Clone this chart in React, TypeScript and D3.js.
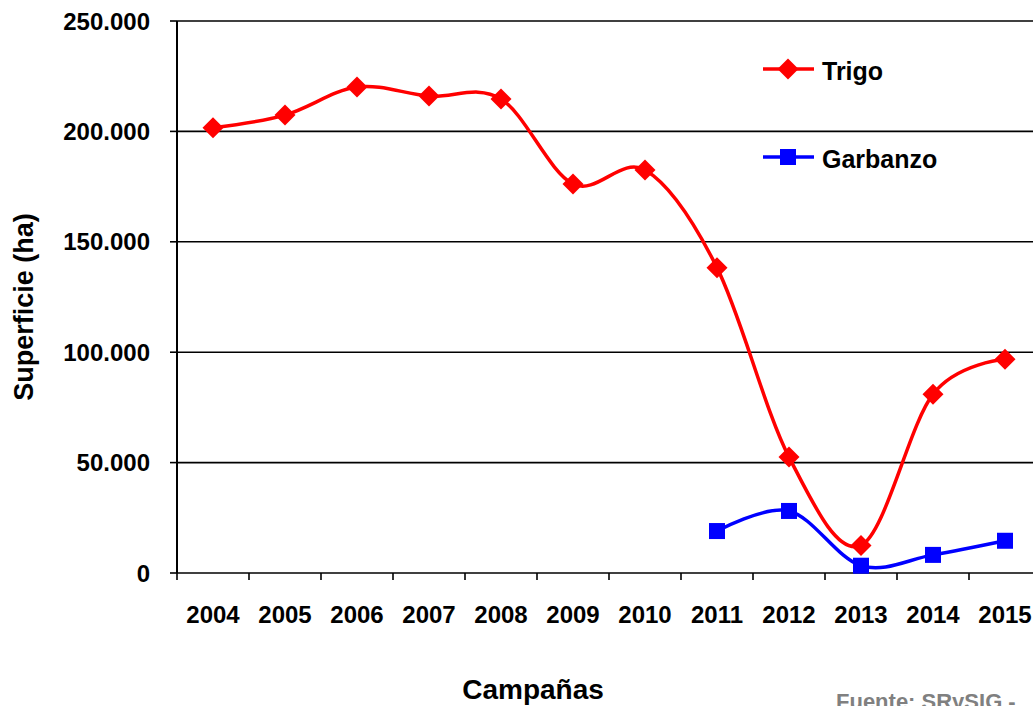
import React from "react";
import * as d3 from "d3";

const years = ["2004","2005","2006","2007","2008","2009","2010","2011","2012","2013","2014","2015"];
const trigo = [201700, 207400, 220100, 216000, 214700, 176200, 182500, 138300, 52500, 12500, 81000, 96800];
const garbanzoYears = ["2011","2012","2013","2014","2015"];
const garbanzo = [19000, 28100, 3300, 8200, 14600];
const yTicks = [0, 50000, 100000, 150000, 200000, 250000];

const W = 1033;
const H = 706;
const left = 177;
const bandW = 72;
const top = 21;
const bottom = 573;
const FONT = "'Liberation Sans', Arial, Helvetica, sans-serif";

const locale = d3.formatLocale({ decimal: ",", thousands: ".", grouping: [3], currency: ["$", ""] });
const fmt = locale.format(",.0f");

export default function App() {
  const x = d3.scaleBand<string>().domain(years).range([left, left + bandW * years.length]);
  const y = d3.scaleLinear().domain([0, 250000]).range([bottom, top]);
  const cx = (yr: string) => (x(yr) as number) + x.bandwidth() / 2;

  const line = d3
    .line<[number, number]>()
    .x((d) => d[0])
    .y((d) => d[1])
    .curve(d3.curveCatmullRom.alpha(0));

  const trigoPts: [number, number][] = years.map((yr, i) => [cx(yr), y(trigo[i])]);
  const garbPts: [number, number][] = garbanzoYears.map((yr, i) => [cx(yr), y(garbanzo[i])]);

  const diamond = (px: number, py: number, r: number) =>
    `${px},${py - r} ${px + r},${py} ${px},${py + r} ${px - r},${py}`;

  const red = "#FF0000";
  const blue = "#0000FF";

  return (
    <svg
      width={W}
      height={H}
      style={{ position: "absolute", left: 0, top: 0, background: "#fff" }}
      fontFamily={FONT}
    >
      <rect x={0} y={0} width={W} height={H} fill="#fff" />
      {/* gridlines */}
      {yTicks.map((t) => (
        <line key={"g" + t} x1={left} x2={left + bandW * years.length} y1={y(t)} y2={y(t)} stroke="#000" strokeWidth={1.6} />
      ))}
      {/* y axis */}
      <line x1={left} x2={left} y1={top} y2={bottom} stroke="#000" strokeWidth={2} />
      {yTicks.map((t) => (
        <line key={"yt" + t} x1={left - 7} x2={left} y1={y(t)} y2={y(t)} stroke="#000" strokeWidth={1.6} />
      ))}
      {yTicks.map((t) => (
        <text key={"yl" + t} x={150} y={y(t)} dy="0.36em" textAnchor="end" fontSize={24} fontWeight="bold" fill="#000">
          {fmt(t)}
        </text>
      ))}
      {/* x axis ticks */}
      {years.map((yr) => (
        <line key={"xt" + yr} x1={x(yr)} x2={x(yr)} y1={bottom} y2={bottom + 7} stroke="#000" strokeWidth={1.6} />
      ))}
      <line x1={left + bandW * years.length} x2={left + bandW * years.length} y1={bottom} y2={bottom + 7} stroke="#000" strokeWidth={1.6} />
      {years.map((yr) => (
        <text key={"xl" + yr} x={cx(yr)} y={623} textAnchor="middle" fontSize={24} fontWeight="bold" fill="#000">
          {yr}
        </text>
      ))}
      {/* axis titles */}
      <text
        transform={`translate(33,${307}) rotate(-90)`}
        textAnchor="middle"
        fontSize={27}
        fontWeight="bold"
        fill="#000"
      >
        Superficie (ha)
      </text>
      <text x={533} y={699} textAnchor="middle" fontSize={28} fontWeight="bold" fill="#000">
        Campañas
      </text>
      {/* series */}
      <path d={line(trigoPts) || ""} fill="none" stroke={red} strokeWidth={3.5} />
      <path d={line(garbPts) || ""} fill="none" stroke={blue} strokeWidth={3.5} />
      {trigoPts.map((p, i) => (
        <polygon key={"d" + i} points={diamond(p[0], p[1], 10.5)} fill={red} />
      ))}
      {garbPts.map((p, i) => (
        <rect key={"s" + i} x={p[0] - 8} y={p[1] - 8} width={16} height={16} fill={blue} />
      ))}
      {/* legend */}
      <line x1={763} x2={814} y1={69} y2={69} stroke={red} strokeWidth={3.5} />
      <polygon points={diamond(788, 69, 10.5)} fill={red} />
      <text x={822} y={80} fontSize={25} fontWeight="bold" fill="#000">Trigo</text>
      <line x1={763} x2={814} y1={157} y2={157} stroke={blue} strokeWidth={3.5} />
      <rect x={780} y={149} width={16} height={16} fill={blue} />
      <text x={822} y={168} fontSize={25} fontWeight="bold" fill="#000">Garbanzo</text>
      {/* source */}
      <text x={836} y={709} fontSize={22} fontWeight="bold" fill="#808080">Fuente: SRySIG -</text>
    </svg>
  );
}
